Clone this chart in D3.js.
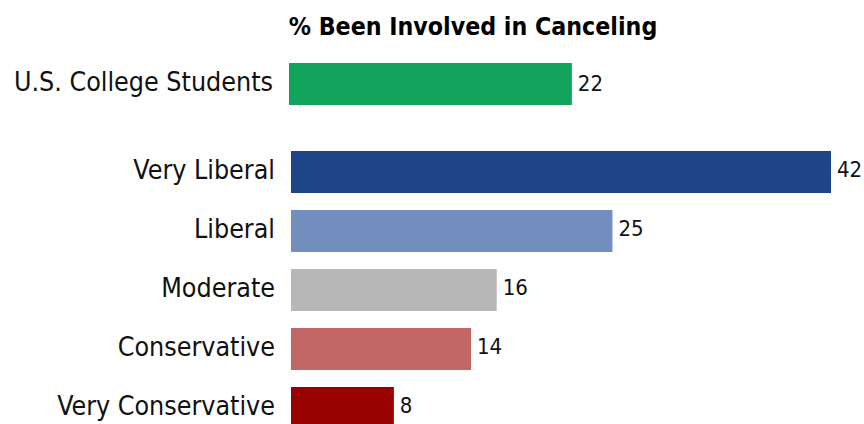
<!DOCTYPE html>
<html>
<head>
<meta charset="utf-8">
<script src="https://cdn.jsdelivr.net/npm/d3@7"></script>
<style>
  html, body { margin: 0; padding: 0; background: #fff; }
  svg { display: block; }
</style>
</head>
<body>
<svg id="chart" width="864" height="424"></svg>
<script>
// Overall figure
const totalLabel = "U.S. College Students";
const totalValue = 22;
const totalColor = "#11a35b";

// Breakdown by political ideology
const groups = ["Very Liberal", "Liberal", "Moderate", "Conservative", "Very Conservative"];
const groupValues = [42, 25, 16, 14, 8];
const groupColors = ["#1d4588", "#718ebe", "#b7b7b7", "#c36766", "#990000"];

const title = "% Been Involved in Canceling";

const svg = d3.select("#chart");
const FONT = "'DejaVu Sans Condensed', 'DejaVu Sans', sans-serif";

const x = d3.scaleLinear().domain([0, 42]).range([0, 540]);

// Ideology rows: 59px step, 42px bars
const step = 59, barH = 42;
const y = d3.scaleBand().domain(groups)
  .range([151, 151 + step * groups.length - (step - barH)])
  .paddingInner((step - barH) / step).paddingOuter(0);
const bw = y.bandwidth();

svg.append("text")
  .attr("x", 473).attr("y", 35)
  .attr("text-anchor", "middle")
  .attr("font-family", FONT).attr("font-weight", "bold")
  .attr("font-size", 24.7).attr("fill", "#000")
  .text(title);

// Total row
const gTotal = svg.append("g").attr("transform", "translate(289,63)");
gTotal.append("rect").attr("x", 0).attr("y", 0).attr("width", x(totalValue)).attr("height", bw).attr("fill", totalColor);
gTotal.append("text").attr("x", -16).attr("y", bw / 2 + 7)
  .attr("text-anchor", "end").attr("font-family", FONT).attr("font-size", 26.6).attr("fill", "#111")
  .text(totalLabel);
gTotal.append("text").attr("x", x(totalValue) + 6).attr("y", bw / 2 + 7)
  .attr("font-family", FONT).attr("font-size", 22).attr("fill", "#111")
  .text(totalValue);

// Ideology bars
const rows = groups.map((g, i) => ({ name: g, value: groupValues[i], color: groupColors[i] }));
const gRows = svg.append("g").attr("transform", "translate(291,0)");
const row = gRows.selectAll("g.row").data(rows).join("g").attr("class", "row")
  .attr("transform", d => `translate(0,${y(d.name)})`);
row.append("rect").attr("x", 0).attr("y", 0).attr("width", d => x(d.value)).attr("height", bw).attr("fill", d => d.color);
row.append("text").attr("x", -16).attr("y", bw / 2 + 7)
  .attr("text-anchor", "end").attr("font-family", FONT).attr("font-size", 26.6).attr("fill", "#111")
  .text(d => d.name);
row.append("text").attr("x", d => x(d.value) + 6).attr("y", bw / 2 + 5)
  .attr("font-family", FONT).attr("font-size", 22).attr("fill", "#111")
  .text(d => d.value);
</script>
</body>
</html>
